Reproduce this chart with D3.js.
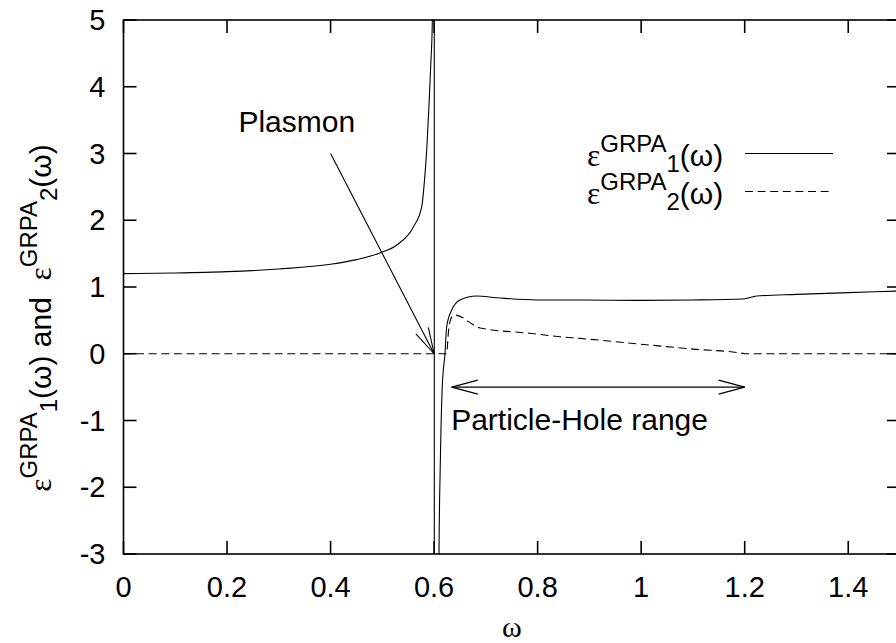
<!DOCTYPE html>
<html>
<head>
<meta charset="utf-8">
<script src="https://cdn.jsdelivr.net/npm/d3@7"></script>
<style>
  body { margin: 0; background: #fff; }
  text { font-family: "Liberation Sans", Arial, Helvetica, sans-serif; fill: #000; white-space: pre; }
  .greek { font-family: "Liberation Serif", "DejaVu Serif", serif; }
</style>
</head>
<body>
<svg id="chart" width="896" height="643"></svg>
<script>
// tick values and labels
const xTicks = [0, 0.2, 0.4, 0.6, 0.8, 1, 1.2, 1.4];
const xTickLabels = ["0", "0.2", "0.4", "0.6", "0.8", "1", "1.2", "1.4"];
const yTicks = [-3, -2, -1, 0, 1, 2, 3, 4, 5];
const yTickLabels = ["-3", "-2", "-1", "0", "1", "2", "3", "4", "5"];

// eps1 (solid); the pole at 0.6 goes off both ends
const eps1Omega = [0, 0.1, 0.2, 0.3, 0.4, 0.45, 0.4955, 0.528, 0.56, 0.576, 0.582, 0.5857, 0.59, 0.5934, 0.5966,
  0.6003, 0.6005, 0.6095, 0.612, 0.6158, 0.621, 0.6243, 0.634, 0.65, 0.682, 0.721, 0.798, 0.882, 1.0, 1.1,
  1.197, 1.223, 1.3, 1.4, 1.5];
const eps1Value = [1.2, 1.21, 1.23, 1.27, 1.34, 1.41, 1.51, 1.63, 1.9, 2.2, 2.65, 3.05, 3.7, 4.3, 5.0,
  40, -40, -3, -1.64, -0.49, 0, 0.405, 0.655, 0.805, 0.865, 0.84, 0.805, 0.805, 0.8, 0.805,
  0.82, 0.865, 0.89, 0.915, 0.94];

// eps2 (dashed)
const eps2Omega = [0, 0.6, 0.624, 0.628, 0.634, 0.64, 0.689, 0.785, 0.843, 0.882, 1.017, 1.1, 1.197, 1.2, 1.5];
const eps2Value = [0, 0, 0, 0.35, 0.55, 0.58, 0.386, 0.306, 0.255, 0.23, 0.13, 0.07, 0.005, 0, 0];

const svg = d3.select("#chart");
const plotLeft = 123.5, plotRight = 900, plotTop = 20, plotBottom = 554;
const tickFont = 29, fontSize = 30;

const x = d3.scaleLinear().domain([0, 1.5]).range([plotLeft, plotRight]);
const y = d3.scaleLinear().domain([-3, 5]).range([plotBottom, plotTop]);

svg.append("clipPath").attr("id", "plotclip")
  .append("rect")
  .attr("x", plotLeft).attr("y", plotTop)
  .attr("width", plotRight - plotLeft).attr("height", plotBottom - plotTop);

// -- curves -- //
const line = d3.line()
  .x(d => x(d[0]))
  .y(d => y(d[1]))
  .curve(d3.curveMonotoneX);

const eps1 = eps1Omega.map((w, i) => [w, eps1Value[i]]);
const eps2 = eps2Omega.map((w, i) => [w, eps2Value[i]]);

const curves = svg.append("g").attr("clip-path", "url(#plotclip)");
curves.append("path")
  .attr("d", line(eps1))
  .attr("fill", "none")
  .attr("stroke", "#000")
  .attr("stroke-width", 1.1);
curves.append("path")
  .attr("d", line(eps2))
  .attr("fill", "none")
  .attr("stroke", "#000")
  .attr("stroke-width", 1.1)
  .attr("stroke-dasharray", "8,4.6");

// -- frame and ticks (mirrored, pointing in) -- //
const tickLen = 13;
const axes = svg.append("g").attr("stroke", "#000").attr("stroke-width", 1.6);

xTicks.forEach(t => {
  axes.append("line").attr("x1", x(t)).attr("x2", x(t)).attr("y1", plotBottom).attr("y2", plotBottom - tickLen);
  axes.append("line").attr("x1", x(t)).attr("x2", x(t)).attr("y1", plotTop).attr("y2", plotTop + tickLen);
});
yTicks.forEach(t => {
  axes.append("line").attr("x1", plotLeft).attr("x2", plotLeft + tickLen).attr("y1", y(t)).attr("y2", y(t));
  axes.append("line").attr("x1", plotRight).attr("x2", plotRight - tickLen).attr("y1", y(t)).attr("y2", y(t));
});
axes.append("rect")
  .attr("x", plotLeft).attr("y", plotTop)
  .attr("width", plotRight - plotLeft).attr("height", plotBottom - plotTop)
  .attr("fill", "none");

// tick labels
svg.append("g").selectAll("text")
  .data(xTicks)
  .enter()
  .append("text")
  .attr("x", d => x(d))
  .attr("y", plotBottom + 43)
  .attr("text-anchor", "middle")
  .attr("font-size", tickFont)
  .text((d, i) => xTickLabels[i]);

svg.append("g").selectAll("text")
  .data(yTicks)
  .enter()
  .append("text")
  .attr("x", plotLeft - 18)
  .attr("y", d => y(d) + 10)
  .attr("text-anchor", "end")
  .attr("font-size", tickFont)
  .text((d, i) => yTickLabels[i]);

// -- axis labels -- //
svg.append("text")
  .attr("class", "greek")
  .attr("x", (plotLeft + plotRight) / 2)
  .attr("y", 637)
  .attr("text-anchor", "middle")
  .attr("font-size", fontSize)
  .text("ω");

// writes eps^GRPA_n(omega) into a text element
function epsLabel(sel, n) {
  sel.append("tspan").attr("class", "greek").attr("font-size", fontSize * 1.05).text("ε");
  sel.append("tspan").attr("dy", -14).attr("font-size", fontSize * 0.8).text("GRPA");
  sel.append("tspan").attr("dy", 20).attr("font-size", fontSize * 0.8).text(n);
  sel.append("tspan").attr("dy", -6).text("(ω)");
}

const ylab = svg.append("text")
  .attr("transform", "translate(51,318) rotate(-90)")
  .attr("text-anchor", "middle")
  .attr("font-size", fontSize);
epsLabel(ylab, "1");
ylab.append("tspan").text(" and  ");
epsLabel(ylab, "2");

// -- legend -- //
const legendX = 587, legendLine = [745, 833];
const legendRows = [{ n: "1", dash: null, y: 3 }, { n: "2", dash: "8,4.6", y: 2.43 }];
legendRows.forEach(r => {
  const ly = y(r.y);
  const t = svg.append("text")
    .attr("x", legendX)
    .attr("y", ly + 12)
    .attr("font-size", fontSize);
  epsLabel(t, r.n);
  svg.append("line")
    .attr("x1", legendLine[0]).attr("x2", legendLine[1])
    .attr("y1", ly).attr("y2", ly)
    .attr("stroke", "#000")
    .attr("stroke-width", 1.1)
    .attr("stroke-dasharray", r.dash);
});

// -- annotations -- //
function arrowHead(g, fx, fy, tx, ty) {
  const ang = Math.atan2(ty - fy, tx - fx);
  const len = 27, spread = 15 * Math.PI / 180;
  [ang + Math.PI - spread, ang + Math.PI + spread].forEach(a => {
    g.append("line")
      .attr("x1", tx).attr("y1", ty)
      .attr("x2", tx + len * Math.cos(a)).attr("y2", ty + len * Math.sin(a));
  });
}

const ann = svg.append("g").attr("stroke", "#000").attr("stroke-width", 1.1);

// plasmon arrow
const plasmonFrom = [0.4, 3], plasmonTo = [0.6, 0];
ann.append("line")
  .attr("x1", x(plasmonFrom[0])).attr("y1", y(plasmonFrom[1]))
  .attr("x2", x(plasmonTo[0])).attr("y2", y(plasmonTo[1]));
arrowHead(ann, x(plasmonFrom[0]), y(plasmonFrom[1]), x(plasmonTo[0]), y(plasmonTo[1]));

svg.append("text")
  .attr("x", x(0.222))
  .attr("y", y(3.32))
  .attr("font-size", fontSize)
  .text("Plasmon");

// particle-hole range
const phFrom = [0.634, -0.5], phTo = [1.2, -0.5];
ann.append("line")
  .attr("x1", x(phFrom[0])).attr("y1", y(phFrom[1]))
  .attr("x2", x(phTo[0])).attr("y2", y(phTo[1]));
arrowHead(ann, x(phFrom[0]), y(phFrom[1]), x(phTo[0]), y(phTo[1]));
arrowHead(ann, x(phTo[0]), y(phTo[1]), x(phFrom[0]), y(phFrom[1]));

svg.append("text")
  .attr("x", x(0.633))
  .attr("y", y(-1.14))
  .attr("font-size", fontSize)
  .text("Particle-Hole range");
</script>
</body>
</html>
